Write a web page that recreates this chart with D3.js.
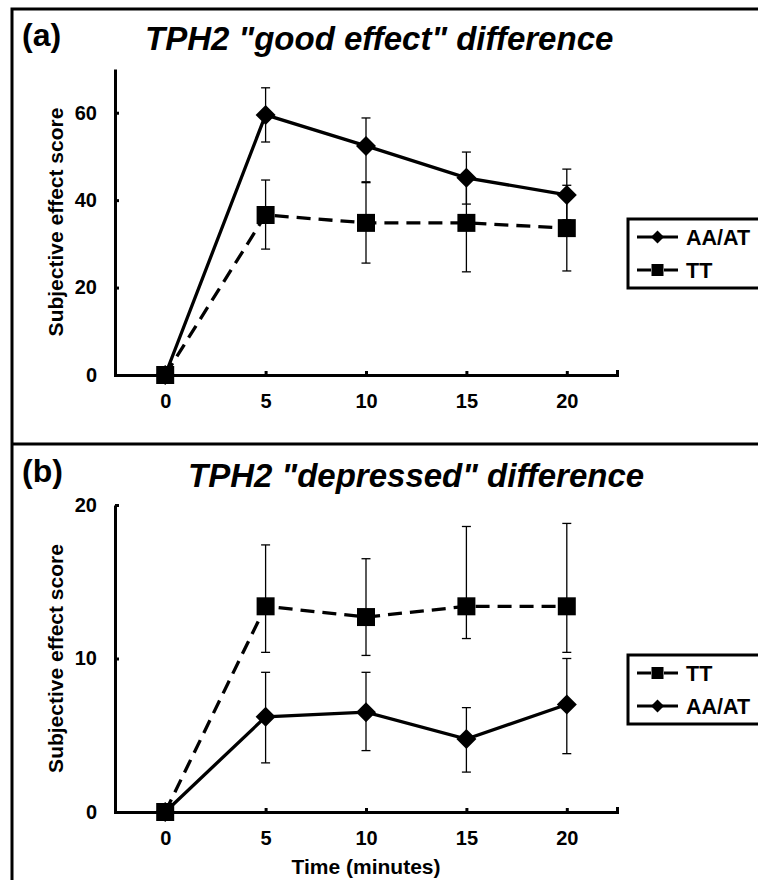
<!DOCTYPE html>
<html lang="en">
<head>
    <meta charset="UTF-8">
    <title>TPH2 subjective effect differences</title>
    <script src="https://d3js.org/d3.v7.min.js"></script>
    <style>
        body { margin: 0; background: #fff; }
        text { font-family: "Liberation Sans", Arial, sans-serif; font-weight: bold; fill: #000; }
    </style>
</head>
<body>
    <svg id="chart" width="758" height="880"></svg>

    <script>
        // Time points (minutes) and tick labels
        const times = [0, 5, 10, 15, 20];
        const xTicks = [0, 5, 10, 15, 20];

        // Panel (a): "good effect"
        const goodAAAT = [0, 59.5, 52.4, 45.1, 41.2];
        const goodAAATUpper = [0, 65.7, 58.8, 51.0, 47.1];
        const goodAAATLower = [0, 53.3, 44.2, 39.1, 35.5];
        const goodTT = [0, 36.6, 34.8, 34.8, 33.6];
        const goodTTUpper = [0, 44.6, 44.0, 46.0, 43.4];
        const goodTTLower = [0, 28.8, 25.6, 23.6, 23.8];
        const goodTicks = [0, 20, 40, 60];

        // Panel (b): "depressed"
        const deprAAAT = [0, 6.2, 6.5, 4.75, 7.0];
        const deprAAATUpper = [0, 9.1, 9.1, 6.8, 10.0];
        const deprAAATLower = [0, 3.2, 4.0, 2.6, 3.8];
        const deprTT = [0, 13.4, 12.7, 13.4, 13.4];
        const deprTTUpper = [0, 17.4, 16.5, 18.6, 18.8];
        const deprTTLower = [0, 10.4, 10.2, 11.3, 10.4];
        const deprTicks = [0, 10, 20];

        const svg = d3.select("#chart");

        // outer frame and panel divider
        svg.append("rect")
            .attr("x", 12).attr("y", 9)
            .attr("width", 800).attr("height", 900)
            .attr("fill", "none").attr("stroke", "#000").attr("stroke-width", 3);
        svg.append("line")
            .attr("x1", 12).attr("x2", 758)
            .attr("y1", 444).attr("y2", 444)
            .attr("stroke", "#000").attr("stroke-width", 3);

        const x = d3.scaleLinear().domain([-2.5, 22.5]).range([115, 617]);

        function diamond(s) {
            return "M0," + (-s) + "L" + s + ",0L0," + s + "L" + (-s) + ",0Z";
        }

        function drawPanel(cfg) {
            const y = d3.scaleLinear().domain(cfg.yDomain).range(cfg.yRange);
            const g = svg.append("g");

            // panel letter and title
            g.append("text")
                .attr("x", 22).attr("y", cfg.letterY)
                .attr("font-size", 32)
                .text(cfg.letter);
            g.append("text")
                .attr("x", cfg.titleX).attr("y", cfg.titleY)
                .attr("font-size", 33)
                .attr("font-style", "italic")
                .text(cfg.title);

            // axes
            const yAxis = g.append("g")
                .attr("transform", "translate(" + x.range()[0] + ",0)")
                .call(d3.axisLeft(y).tickValues(cfg.yTicks).tickSizeInner(-4).tickSizeOuter(0).tickPadding(18));
            const xAxis = g.append("g")
                .attr("transform", "translate(0," + cfg.yRange[0] + ")")
                .call(d3.axisBottom(x).tickValues(xTicks).tickSizeInner(-4).tickSizeOuter(-5).tickPadding(19));
            [yAxis, xAxis].forEach(a => {
                a.select(".domain").attr("stroke-width", 3);
                a.selectAll(".tick line").attr("stroke-width", 3);
                a.selectAll("text").attr("font-size", 20).attr("font-family", null);
            });

            g.append("text")
                .attr("transform", "translate(63," + (cfg.yRange[0] + cfg.yRange[1]) / 2 + ") rotate(-90)")
                .attr("text-anchor", "middle")
                .attr("font-size", 21)
                .text("Subjective effect score");

            // error bars
            cfg.series.forEach(s => {
                const eb = g.append("g");
                times.forEach((t, i) => {
                    if (s.upper[i] === s.lower[i]) return;
                    const cx = x(t);
                    eb.append("line")
                        .attr("x1", cx).attr("x2", cx)
                        .attr("y1", y(s.upper[i])).attr("y2", y(s.lower[i]))
                        .attr("stroke", "#000").attr("stroke-width", 1.3);
                    [s.upper[i], s.lower[i]].forEach(v => {
                        eb.append("line")
                            .attr("x1", cx - 4.5).attr("x2", cx + 4.5)
                            .attr("y1", y(v)).attr("y2", y(v))
                            .attr("stroke", "#000").attr("stroke-width", 1.3);
                    });
                });
            });

            // lines
            const line = d3.line().x((d, i) => x(times[i])).y(d => y(d));
            cfg.series.forEach(s => {
                g.append("path")
                    .datum(s.values)
                    .attr("d", line)
                    .attr("fill", "none")
                    .attr("stroke", "#000")
                    .attr("stroke-width", 3.3)
                    .attr("stroke-dasharray", s.dashed ? "14,8" : null);
            });

            // markers
            cfg.series.forEach(s => {
                g.selectAll(null)
                    .data(s.values)
                    .enter()
                    .append("path")
                    .attr("transform", (d, i) => "translate(" + x(times[i]) + "," + y(d) + ")")
                    .attr("d", s.dashed ? "M-9,-9H9V9H-9Z" : diamond(10))
                    .attr("fill", "#000");
            });

            // legend
            const lg = g.append("g");
            lg.append("rect")
                .attr("x", 628).attr("y", cfg.legendY)
                .attr("width", 200).attr("height", 69)
                .attr("fill", "#fff").attr("stroke", "#000").attr("stroke-width", 3);
            cfg.legendOrder.forEach((s, i) => {
                const ly = cfg.legendY + 18 + i * 33;
                lg.append("line")
                    .attr("x1", 637).attr("x2", 678)
                    .attr("y1", ly).attr("y2", ly)
                    .attr("stroke", "#000").attr("stroke-width", 3)
                    .attr("stroke-dasharray", s.dashed ? "14,13,14" : null);
                lg.append("path")
                    .attr("transform", "translate(657.5," + ly + ")")
                    .attr("d", s.dashed ? "M-6,-6H6V6H-6Z" : diamond(6.5))
                    .attr("fill", "#000");
                lg.append("text")
                    .attr("x", 686).attr("y", ly + 7.5)
                    .attr("font-size", 21.5)
                    .text(s.name);
            });
        }

        const goodSeries = [
            { name: "AA/AT", values: goodAAAT, upper: goodAAATUpper, lower: goodAAATLower, dashed: false },
            { name: "TT", values: goodTT, upper: goodTTUpper, lower: goodTTLower, dashed: true }
        ];
        const deprSeries = [
            { name: "AA/AT", values: deprAAAT, upper: deprAAATUpper, lower: deprAAATLower, dashed: false },
            { name: "TT", values: deprTT, upper: deprTTUpper, lower: deprTTLower, dashed: true }
        ];

        drawPanel({
            letter: "(a)", letterY: 46,
            title: "TPH2 \"good effect\" difference", titleX: 145, titleY: 50,
            yDomain: [0, 70], yRange: [375, 69], yTicks: goodTicks,
            series: goodSeries, legendOrder: goodSeries, legendY: 219
        });
        drawPanel({
            letter: "(b)", letterY: 482,
            title: "TPH2 \"depressed\" difference", titleX: 188, titleY: 487,
            yDomain: [0, 20], yRange: [812, 505], yTicks: deprTicks,
            series: deprSeries, legendOrder: [deprSeries[1], deprSeries[0]], legendY: 655
        });

        svg.append("text")
            .attr("x", 366).attr("y", 874)
            .attr("text-anchor", "middle")
            .attr("font-size", 21)
            .text("Time (minutes)");
    </script>
</body>
</html>
